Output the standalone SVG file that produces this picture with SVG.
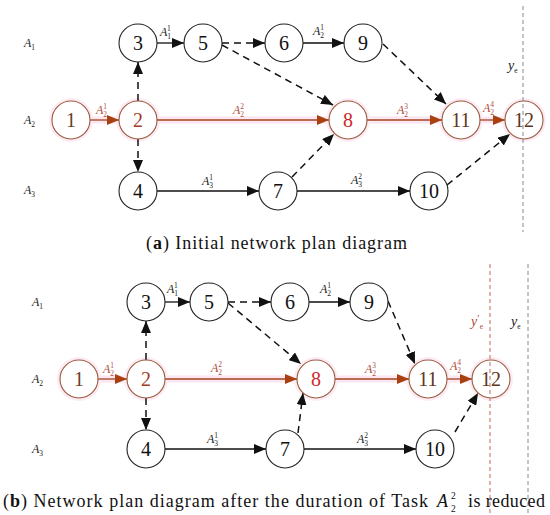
<svg xmlns="http://www.w3.org/2000/svg" width="550" height="515" viewBox="0 0 550 515">
<style>
.bg{fill:#fff}
.nd{fill:#fff;stroke:#222;stroke-width:1.1}
.rn{fill:#fff;stroke:#9a5a3e;stroke-width:1.1}
.glow{fill:#fdebf4}
.gl{stroke:#fde6f1;stroke-width:7;fill:none}
.num{font-family:"Liberation Serif","Times New Roman",serif;font-size:20px;text-anchor:middle;fill:#111}
.e{stroke:#111;stroke-width:1.3;fill:none}
.d{stroke:#111;stroke-width:1.5;fill:none;stroke-dasharray:7 5}
.r{stroke:#a0451c;stroke-width:1.3;fill:none}
.lbl{font-family:"Liberation Serif","Times New Roman",serif;font-size:12px;font-style:italic;fill:#222}
.yl{font-size:14px}
.rl{fill:#b04a3a}
.s{font-size:7.5px;font-style:normal}
.vl{stroke:#888;stroke-width:1;stroke-dasharray:4 3}
.vr{stroke:#c98570;stroke-width:1.2;stroke-dasharray:4 3}
.cap{font-family:"Liberation Serif","Times New Roman",serif;font-size:18px;fill:#111}
.cs{font-family:"Liberation Serif","Times New Roman",serif;font-size:9.5px;fill:#111}
</style>
<defs>
<marker id="ak" markerUnits="userSpaceOnUse" markerWidth="13" markerHeight="10" refX="12" refY="5" orient="auto"><path d="M0,0 L12,5 L0,10 Z" fill="#111"/></marker>
<marker id="ar" markerUnits="userSpaceOnUse" markerWidth="13" markerHeight="10" refX="12" refY="5" orient="auto"><path d="M0,0 L12,5 L0,10 Z" fill="#a8400f"/></marker>
</defs>
<rect class="bg" width="550" height="515"/>

<!-- ===== (a) ===== -->
<g id="a-glow">
<line class="gl" x1="90" y1="120" x2="505" y2="120"/>
<circle class="glow" cx="71" cy="120" r="22"/>
<circle class="glow" cx="138" cy="120" r="22"/>
<circle class="glow" cx="348" cy="120" r="22"/>
<circle class="glow" cx="461" cy="120" r="22"/>
<circle class="glow" cx="524" cy="120" r="22"/>
</g>
<g id="a-rows">
<text class="lbl" x="24" y="47">A<tspan class="s" dy="3">1</tspan></text>
<text class="lbl" x="24" y="124">A<tspan class="s" dy="3">2</tspan></text>
<text class="lbl" x="24" y="194">A<tspan class="s" dy="3">3</tspan></text>
</g>

<g id="a-connectors">
<line class="r" x1="90" y1="120" x2="119" y2="120" marker-end="url(#ar)"/>
<line class="d" x1="138" y1="101" x2="138" y2="62" marker-end="url(#ak)"/>
<line class="d" x1="138" y1="139" x2="138" y2="172" marker-end="url(#ak)"/>
<line class="e" x1="157" y1="43" x2="184" y2="43" marker-end="url(#ak)"/>
<line class="d" x1="222" y1="43" x2="265" y2="43" marker-end="url(#ak)"/>
<line class="d" x1="222" y1="45" x2="333" y2="105" marker-end="url(#ak)"/>
<line class="e" x1="303" y1="43" x2="344" y2="43" marker-end="url(#ak)"/>
<line class="d" x1="383" y1="44" x2="446" y2="104" marker-end="url(#ak)"/>
<line class="r" x1="157" y1="120" x2="329" y2="120" marker-end="url(#ar)"/>
<line class="r" x1="367" y1="120" x2="442" y2="120" marker-end="url(#ar)"/>
<line class="r" x1="480" y1="120" x2="505" y2="120" marker-end="url(#ar)"/>
<line class="e" x1="157" y1="191" x2="259" y2="191" marker-end="url(#ak)"/>
<line class="d" x1="292" y1="177" x2="334" y2="134" marker-end="url(#ak)"/>
<line class="e" x1="297" y1="191" x2="410" y2="191" marker-end="url(#ak)"/>
<line class="d" x1="447" y1="185" x2="510" y2="134" marker-end="url(#ak)"/>
<text class="lbl" x="160" y="36">A<tspan class="s" dy="3">1</tspan><tspan class="s" dx="-3.8" dy="-8">1</tspan></text>
<text class="lbl rl" x="96" y="114">A<tspan class="s" dy="3">2</tspan><tspan class="s" dx="-3.8" dy="-8">1</tspan></text>
<text class="lbl rl" x="233" y="114">A<tspan class="s" dy="3">2</tspan><tspan class="s" dx="-3.8" dy="-8">2</tspan></text>
<text class="lbl" x="313" y="35">A<tspan class="s" dy="3">2</tspan><tspan class="s" dx="-3.8" dy="-8">1</tspan></text>
<text class="lbl rl" x="397" y="114">A<tspan class="s" dy="3">2</tspan><tspan class="s" dx="-3.8" dy="-8">3</tspan></text>
<text class="lbl rl" x="483" y="112">A<tspan class="s" dy="3">2</tspan><tspan class="s" dx="-3.8" dy="-8">4</tspan></text>
<text class="lbl" x="202" y="185">A<tspan class="s" dy="3">3</tspan><tspan class="s" dx="-3.8" dy="-8">1</tspan></text>
<text class="lbl" x="351" y="184">A<tspan class="s" dy="3">3</tspan><tspan class="s" dx="-3.8" dy="-8">2</tspan></text>
</g>

<g id="a-n1"><circle class="rn" cx="71" cy="120" r="19"/><text class="num" x="71" y="127" style="fill:#6b3e25">1</text></g>
<g id="a-n2"><circle class="rn" cx="138" cy="120" r="19"/><text class="num" x="138" y="127" style="fill:#a33a22">2</text></g>
<g id="a-n3"><circle class="nd" cx="138" cy="43" r="19"/><text class="num" x="138" y="50">3</text></g>
<g id="a-n4"><circle class="nd" cx="138" cy="191" r="19"/><text class="num" x="138" y="198">4</text></g>
<g id="a-n5"><circle class="nd" cx="203" cy="43" r="19"/><text class="num" x="203" y="50">5</text></g>
<g id="a-n6"><circle class="nd" cx="284" cy="43" r="19"/><text class="num" x="284" y="50">6</text></g>
<g id="a-n7"><circle class="nd" cx="278" cy="191" r="19"/><text class="num" x="278" y="198">7</text></g>
<g id="a-n8"><circle class="rn" cx="348" cy="120" r="19"/><text class="num" x="348" y="127" style="fill:#cc2a2a">8</text></g>
<g id="a-n9"><circle class="nd" cx="363" cy="43" r="19"/><text class="num" x="363" y="50">9</text></g>
<g id="a-n10"><circle class="nd" cx="429" cy="191" r="19"/><text class="num" x="429" y="198">10</text></g>
<g id="a-n11"><circle class="rn" cx="461" cy="120" r="19"/><text class="num" x="461" y="127" style="fill:#5e3520">11</text></g>
<g id="a-n12"><circle class="rn" cx="524" cy="120" r="19"/><text class="num" x="524" y="127" style="fill:#5e3520">12</text></g>

<line id="a-ye" class="vl" x1="523" y1="6" x2="523" y2="232"/>
<text class="lbl yl" x="508" y="70">y<tspan class="s" dy="3">e</tspan></text>

<text class="cap" x="146" y="249" textLength="261" lengthAdjust="spacing">(<tspan font-weight="bold">a</tspan>) Initial network plan diagram</text>

<!-- ===== (b) ===== -->
<g id="b-glow">
<line class="gl" x1="98" y1="379" x2="472" y2="379"/>
<circle class="glow" cx="79" cy="379" r="22"/>
<circle class="glow" cx="146" cy="379" r="22"/>
<circle class="glow" cx="316" cy="379" r="22"/>
<circle class="glow" cx="428" cy="379" r="22"/>
<circle class="glow" cx="491" cy="379" r="22"/>
</g>
<g id="b-rows">
<text class="lbl" x="32" y="306">A<tspan class="s" dy="3">1</tspan></text>
<text class="lbl" x="32" y="383">A<tspan class="s" dy="3">2</tspan></text>
<text class="lbl" x="32" y="453">A<tspan class="s" dy="3">3</tspan></text>
</g>

<g id="b-connectors">
<line class="r" x1="98" y1="379" x2="127" y2="379" marker-end="url(#ar)"/>
<line class="d" x1="146" y1="360" x2="146" y2="321" marker-end="url(#ak)"/>
<line class="d" x1="146" y1="398" x2="146" y2="430" marker-end="url(#ak)"/>
<line class="e" x1="165" y1="302" x2="190" y2="302" marker-end="url(#ak)"/>
<line class="d" x1="228" y1="302" x2="271" y2="302" marker-end="url(#ak)"/>
<line class="d" x1="228" y1="303" x2="301" y2="364" marker-end="url(#ak)"/>
<line class="e" x1="309" y1="302" x2="350" y2="302" marker-end="url(#ak)"/>
<line class="d" x1="388" y1="301" x2="415" y2="364" marker-end="url(#ak)"/>
<line class="r" x1="165" y1="379" x2="297" y2="379" marker-end="url(#ar)"/>
<line class="r" x1="335" y1="379" x2="409" y2="379" marker-end="url(#ar)"/>
<line class="r" x1="447" y1="379" x2="472" y2="379" marker-end="url(#ar)"/>
<line class="e" x1="165" y1="449" x2="266" y2="449" marker-end="url(#ak)"/>
<line class="d" x1="298" y1="433" x2="303" y2="393" marker-end="url(#ak)"/>
<line class="e" x1="304" y1="449" x2="416" y2="449" marker-end="url(#ak)"/>
<line class="d" x1="455" y1="432" x2="478" y2="393" marker-end="url(#ak)"/>
<text class="lbl" x="167" y="293">A<tspan class="s" dy="3">1</tspan><tspan class="s" dx="-3.8" dy="-8">1</tspan></text>
<text class="lbl rl" x="103" y="373">A<tspan class="s" dy="3">2</tspan><tspan class="s" dx="-3.8" dy="-8">1</tspan></text>
<text class="lbl rl" x="211" y="372">A<tspan class="s" dy="3">2</tspan><tspan class="s" dx="-3.8" dy="-8">2</tspan></text>
<text class="lbl" x="320" y="293">A<tspan class="s" dy="3">2</tspan><tspan class="s" dx="-3.8" dy="-8">1</tspan></text>
<text class="lbl rl" x="365" y="373">A<tspan class="s" dy="3">2</tspan><tspan class="s" dx="-3.8" dy="-8">3</tspan></text>
<text class="lbl rl" x="450" y="370">A<tspan class="s" dy="3">2</tspan><tspan class="s" dx="-3.8" dy="-8">4</tspan></text>
<text class="lbl" x="207" y="443">A<tspan class="s" dy="3">3</tspan><tspan class="s" dx="-3.8" dy="-8">1</tspan></text>
<text class="lbl" x="357" y="443">A<tspan class="s" dy="3">3</tspan><tspan class="s" dx="-3.8" dy="-8">2</tspan></text>
</g>

<g id="b-n1"><circle class="rn" cx="79" cy="379" r="19"/><text class="num" x="79" y="386" style="fill:#6b3e25">1</text></g>
<g id="b-n2"><circle class="rn" cx="146" cy="379" r="19"/><text class="num" x="146" y="386" style="fill:#a33a22">2</text></g>
<g id="b-n3"><circle class="nd" cx="146" cy="302" r="19"/><text class="num" x="146" y="309">3</text></g>
<g id="b-n4"><circle class="nd" cx="146" cy="449" r="19"/><text class="num" x="146" y="456">4</text></g>
<g id="b-n5"><circle class="nd" cx="209" cy="302" r="19"/><text class="num" x="209" y="309">5</text></g>
<g id="b-n6"><circle class="nd" cx="290" cy="302" r="19"/><text class="num" x="290" y="309">6</text></g>
<g id="b-n7"><circle class="nd" cx="285" cy="449" r="19"/><text class="num" x="285" y="456">7</text></g>
<g id="b-n8"><circle class="rn" cx="316" cy="379" r="19"/><text class="num" x="316" y="386" style="fill:#cc2a2a">8</text></g>
<g id="b-n9"><circle class="nd" cx="369" cy="302" r="19"/><text class="num" x="369" y="309">9</text></g>
<g id="b-n10"><circle class="nd" cx="435" cy="449" r="19"/><text class="num" x="435" y="456">10</text></g>
<g id="b-n11"><circle class="rn" cx="428" cy="379" r="19"/><text class="num" x="428" y="386" style="fill:#5e3520">11</text></g>
<g id="b-n12"><circle class="rn" cx="491" cy="379" r="19"/><text class="num" x="491" y="386" style="fill:#5e3520">12</text></g>

<line id="b-ye" class="vl" x1="528" y1="264" x2="528" y2="515"/>
<line id="b-ye2" class="vr" x1="490" y1="264" x2="490" y2="515"/>
<text class="lbl yl" x="511" y="326">y<tspan class="s" dy="3">e</tspan></text>
<text class="lbl yl rl" x="471" y="326">y<tspan style="font-style:normal;font-size:11px" dy="-4">′</tspan><tspan class="s" dy="7">e</tspan></text>

<text class="cap" x="3" y="507" textLength="425" lengthAdjust="spacing">(<tspan font-weight="bold">b</tspan>) Network plan diagram after the duration of Task</text>
<text class="cap" x="437" y="507" style="font-style:italic">A</text>
<text class="cs" x="451" y="499">2</text>
<text class="cs" x="451" y="512">2</text>
<text class="cap" x="468" y="507" textLength="77" lengthAdjust="spacing">is reduced</text>
</svg>
